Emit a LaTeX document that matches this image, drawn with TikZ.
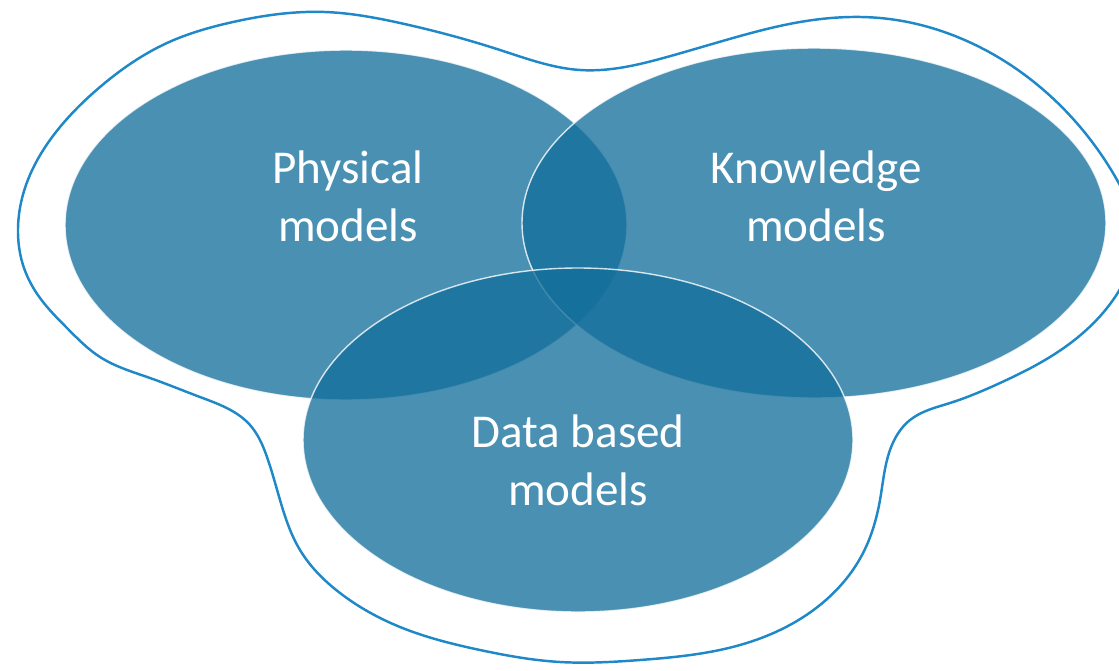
\documentclass[tikz,border=0pt]{standalone}
\usepackage{fontspec}
\setmainfont{Carlito}
\usetikzlibrary{positioning,hobby}

\definecolor{setblue}{RGB}{18,110,154}
\definecolor{rimblue}{RGB}{30,136,200}

\tikzset{
    modelset/.style={fill=setblue, fill opacity=0.765, draw=white,
        draw opacity=0.8, line width=0.8pt},
    setlabel/.style={text=white, align=center,
        font=\fontsize{26.8}{33.2}\selectfont}
}

\begin{document}
\begin{tikzpicture}[x=0.02cm, y=-0.02cm]
    \useasboundingbox (0,0) rectangle (1119,670);
    % Outline around the sets
    \draw[rimblue, line width=1.4pt, use Hobby shortcut, closed=true]
        (18,233) .. (26,185) .. (50,140) .. (100,87) .. (167,43) .. (233,22)
        .. (325,12) .. (400,23) .. (500,50) .. (580,70) .. (667,57) .. (733,38)
        .. (800,22) .. (880,18) .. (947,33) .. (1047,93) .. (1113,173)
        .. (1135,237) .. (1113,300) .. (1050,357) .. (1000,383) .. (950,403)
        .. (910,420) .. (890,450) .. (880,500) .. (862,555) .. (820,605)
        .. (740,645) .. (640,660) .. (560,662) .. (480,650) .. (400,627)
        .. (340,593) .. (300,550) .. (280,500) .. (267,457) .. (250,425)
        .. (200,397) .. (150,378) .. (100,357) .. (68,329) .. (40,298)
        .. (24,268);
    % Sets
    \path[modelset] (346,225) ellipse [x radius=281, y radius=175];
    \path[modelset] (814,223) ellipse [x radius=292, y radius=175];
    \path[modelset] (578,440) ellipse [x radius=275, y radius=172];
    % Labels
    \node[setlabel] (physical) at (348,196) {Physical\\models};
    \node[setlabel] (knowledge) at (816,196) {Knowledge\\models};
    \node[setlabel] (data) at (578,460) {Data based\\models};
\end{tikzpicture}
\end{document}
